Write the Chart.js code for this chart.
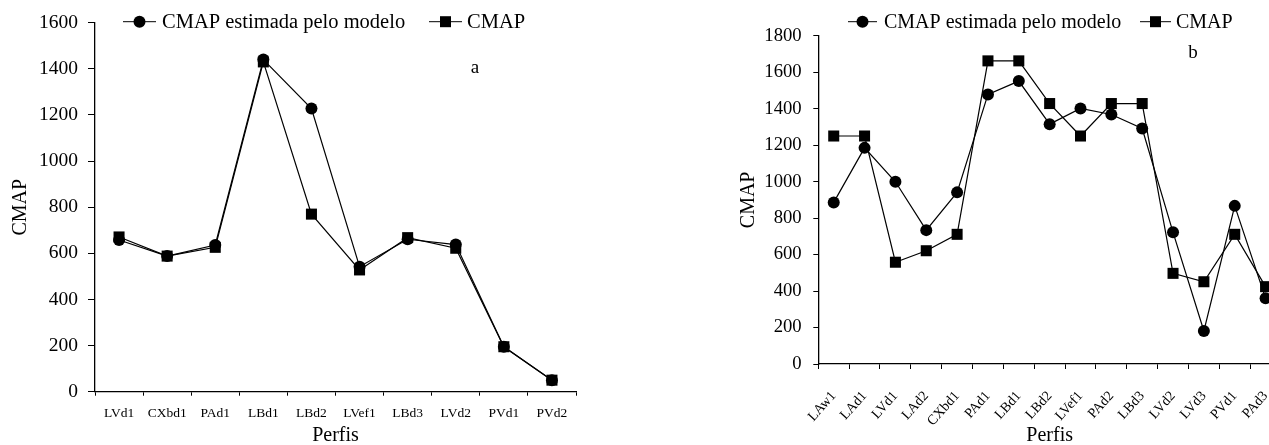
<!DOCTYPE html>
<html>
<head>
<meta charset="utf-8">
<script src="https://cdn.jsdelivr.net/npm/chart.js@4"></script>
<style>
  html, body { margin: 0; padding: 0; background: #fff; width: 1269px; height: 445px; overflow: hidden; }
  #wrapA { position: absolute; left: 0; top: 0; width: 634px; height: 445px; }
  #wrapB { position: absolute; left: 700px; top: 0; width: 650px; height: 445px; }
</style>
</head>
<body>
<div id="wrapA"><canvas id="chartA" width="634" height="445"></canvas></div>
<div id="wrapB"><canvas id="chartB" width="650" height="445"></canvas></div>
<script>
// ---------- Data: panel a ----------
const categoriesA = ['LVd1', 'CXbd1', 'PAd1', 'LBd1', 'LBd2', 'LVef1', 'LBd3', 'LVd2', 'PVd1', 'PVd2'];
const estimadaA = [658, 588, 636, 1440, 1228, 542, 661, 638, 195, 50];
const cmapA = [671, 588, 626, 1430, 770, 528, 668, 622, 195, 50];
const yMaxA = 1600;
const yStepA = 200;

// ---------- Data: panel b ----------
const categoriesB = ['LAw1', 'LAd1', 'LVd1', 'LAd2', 'CXbd1', 'PAd1', 'LBd1', 'LBd2', 'LVef1', 'PAd2', 'LBd3', 'LVd2', 'LVd3', 'PVd1', 'PAd3'];
const estimadaB = [886, 1185, 999, 734, 941, 1478, 1551, 1315, 1401, 1368, 1291, 722, 181, 867, 360];
const cmapB = [1250, 1250, 558, 621, 711, 1662, 1662, 1428, 1250, 1428, 1428, 497, 451, 711, 424];
const yMaxB = 1800;
const yStepB = 200;

const seriesLabels = ['CMAP estimada pelo modelo', 'CMAP'];
const axisTitleY = 'CMAP';
const axisTitleX = 'Perfis';

const FONT = '"Liberation Serif", "Times New Roman", serif';

function legendPlugin(cfg) {
  return {
    id: 'customLegend',
    afterDraw(chart) {
      const ctx = chart.ctx;
      ctx.save();
      ctx.strokeStyle = '#000';
      ctx.fillStyle = '#000';
      ctx.lineWidth = 1;
      ctx.textBaseline = 'middle';
      ctx.textAlign = 'left';
      ctx.font = cfg.fontSize + 'px ' + FONT;
      cfg.items.forEach((it) => {
        const y = cfg.y;
        ctx.beginPath();
        ctx.moveTo(it.x0, y);
        ctx.lineTo(it.x1, y);
        ctx.stroke();
        const cx = (it.x0 + it.x1) / 2;
        ctx.beginPath();
        if (it.style === 'circle') {
          ctx.arc(cx, y, 6, 0, Math.PI * 2);
        } else {
          ctx.rect(cx - 5.5, y - 5.5, 11, 11);
        }
        ctx.fill();
        ctx.fillText(chart.data.datasets[it.ds].label, it.tx, y + 1);
      });
      ctx.textAlign = 'center';
      ctx.font = cfg.panelSize + 'px ' + FONT;
      ctx.fillText(cfg.panel, cfg.px, cfg.py);
      ctx.restore();
    }
  };
}

function makeChart(id, cats, est, cmap, yMax, yStep, L) {
  return new Chart(document.getElementById(id), {
    type: 'line',
    data: {
      labels: cats,
      datasets: [
        {
          label: seriesLabels[1], data: cmap,
          borderColor: '#000', backgroundColor: '#000', borderWidth: 1.2,
          pointStyle: 'rect', pointRadius: 7.8, pointBorderWidth: 0,
          pointBackgroundColor: '#000', tension: 0, clip: false
        },
        {
          label: seriesLabels[0], data: est,
          borderColor: '#000', backgroundColor: '#000', borderWidth: 1.2,
          pointStyle: 'circle', pointRadius: 6, pointBorderWidth: 0,
          pointBackgroundColor: '#000', tension: 0, clip: false
        }
      ]
    },
    options: {
      responsive: false,
      animation: false,
      devicePixelRatio: 1,
      events: [],
      layout: { padding: { left: 0, top: L.top, right: L.right, bottom: 0 } },
      plugins: { legend: { display: false }, tooltip: { enabled: false } },
      scales: {
        x: {
          type: 'category',
          offset: true,
          afterFit: (s) => { s.height = L.xH; },
          grid: { offset: true, drawOnChartArea: false, drawTicks: true, tickLength: L.xTick, color: '#000', lineWidth: 1 },
          border: { display: true, color: '#000', width: 1.3 },
          ticks: {
            color: '#000', font: { family: FONT, size: L.xFont },
            autoSkip: false, maxRotation: L.rot, minRotation: L.rot, padding: L.xPad
          },
          title: {
            display: true, text: axisTitleX, color: '#000',
            font: { family: FONT, size: 20, lineHeight: 1 }, padding: { top: 0, bottom: -1 }
          }
        },
        y: {
          min: 0, max: yMax,
          afterFit: (s) => { s.width = L.yW; },
          grid: { drawOnChartArea: false, drawTicks: true, tickLength: L.yTick, color: '#000', lineWidth: 1 },
          border: { display: true, color: '#000', width: 1.3 },
          ticks: {
            stepSize: yStep, color: '#000', font: { family: FONT, size: L.yFont }, padding: L.yPad,
            callback: (v) => String(v)
          },
          title: {
            display: true, text: axisTitleY, color: '#000',
            font: { family: FONT, size: 20, lineHeight: 1.2 }, padding: { top: L.titlePad, bottom: 0 }
          }
        }
      }
    },
    plugins: [legendPlugin(L.legend)]
  });
}

makeChart('chartA', categoriesA, estimadaA, cmapA, yMaxA, yStepA, {
  top: 22.7, right: 58, xH: 53.3, yW: 95, xTick: 4, yTick: 7, xFont: 13.5, yFont: 19.5,
  rot: 0, xPad: 10, yPad: 10, titlePad: 9,
  legend: {
    y: 21.7, fontSize: 20.5, panel: 'a', panelSize: 19, px: 475, py: 68,
    items: [
      { ds: 1, style: 'circle', x0: 123, x1: 156, tx: 162 },
      { ds: 0, style: 'rect', x0: 429, x1: 462, tx: 467 }
    ]
  }
});

makeChart('chartB', categoriesB, estimadaB, cmapB, yMaxB, yStepB, {
  top: 35.7, right: 69, xH: 81, yW: 118.3, xTick: 5, yTick: 5, xFont: 14, yFont: 18.7,
  rot: 48, xPad: 19, yPad: 11.6, titlePad: 37,
  legend: {
    y: 21.7, fontSize: 20, panel: 'b', panelSize: 19, px: 493, py: 53,
    items: [
      { ds: 1, style: 'circle', x0: 148, x1: 177, tx: 184 },
      { ds: 0, style: 'rect', x0: 440, x1: 471, tx: 476 }
    ]
  }
});
</script>
</body>
</html>
